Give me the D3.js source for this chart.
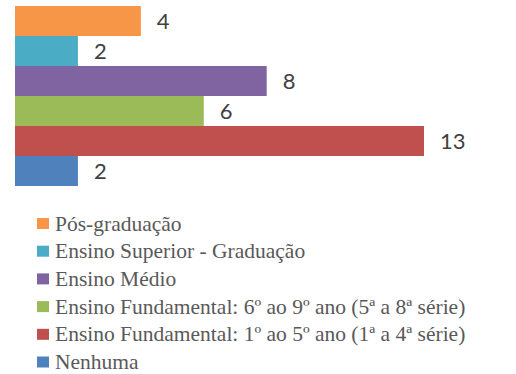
<!DOCTYPE html>
<html><head><meta charset="utf-8">
<script src="https://cdn.jsdelivr.net/npm/d3@7"></script>
<style>body{margin:0;background:#fff}svg{display:block}</style>
</head><body>
<script>
const categories = ["Pós-graduação","Ensino Superior - Graduação","Ensino Médio","Ensino Fundamental: 6º ao 9º ano (5ª a 8ª série)","Ensino Fundamental: 1º ao 5º ano (1ª a 4ª série)","Nenhuma"];
const values = [4,2,8,6,13,2];
const colors = ["#F79646","#4BACC6","#8064A2","#9BBB59","#C0504D","#4F81BD"];

const W=516,H=374;
const svg=d3.select("body").append("svg").attr("width",W).attr("height",H);

// legend
const ly=d3.scalePoint().domain(categories).range([223.5,362]);
svg.selectAll("text.leg").data(categories).join("text").attr("class","leg")
  .attr("x",55).attr("y",d=>ly(d)+7)
  .style("font-family","'Liberation Serif'").style("font-size","21.5px")
  .style("fill","#595959").text(d=>d);
svg.selectAll("rect.sw").data(categories).join("rect").attr("class","sw")
  .attr("x",37).attr("y",d=>ly(d)-5.5).attr("width",12).attr("height",11)
  .attr("fill",(d,i)=>colors[i]);

// bars
const x=d3.scaleLinear().domain([0,13]).range([15,424]);
const y=d3.scaleBand().domain(categories).range([6,186]).padding(0);
svg.selectAll("rect.bar").data(categories).join("rect").attr("class","bar")
  .attr("x",x(0)).attr("y",d=>y(d)).attr("width",(d,i)=>x(values[i])-x(0))
  .attr("height",y.bandwidth()).attr("fill",(d,i)=>colors[i]);

svg.selectAll("text.val").data(categories).join("text").attr("class","val")
  .attr("x",(d,i)=>x(values[i])+16).attr("y",d=>y(d)+y.bandwidth()/2+8)
  .style("font-family","'Lato'").style("font-size","22px")
  .style("fill","#404040").text((d,i)=>values[i]);
</script>
</body></html>
